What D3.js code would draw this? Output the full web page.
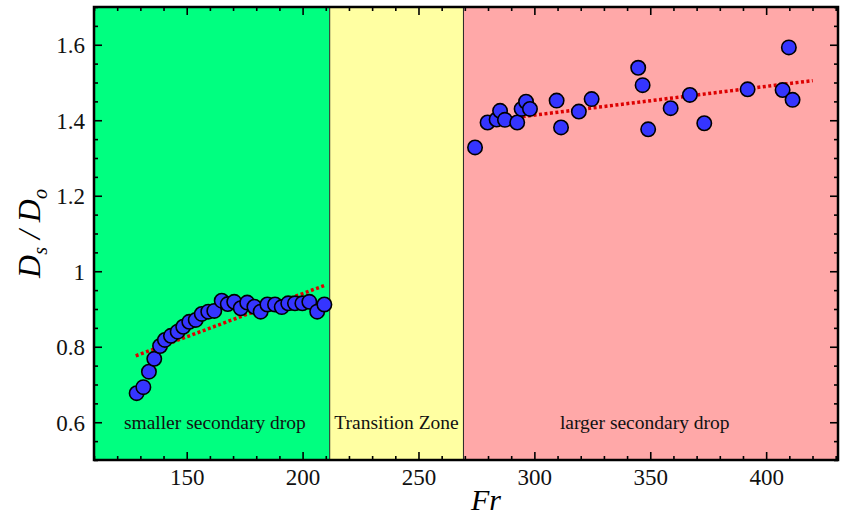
<!DOCTYPE html>
<html>
<head>
<meta charset="utf-8">
<script src="https://cdnjs.cloudflare.com/ajax/libs/d3/7.8.5/d3.min.js"></script>
<style>
  body { margin: 0; background: #fff; }
  svg { display: block; }
  svg text { font-family: "Liberation Serif", "DejaVu Serif", serif; }
</style>
</head>
<body>
<svg id="chart"></svg>
<script>
// data
let smallFr = [128.4, 131.3, 133.7, 136.0, 138.5, 140.6, 143.2, 146.1, 148.5, 151.1, 153.9, 156.5, 159.3, 161.9, 165.1,
  167.7, 170.5, 173.3, 176.1, 179.2, 181.9, 184.8, 188.1, 191.0, 193.8, 196.7, 199.9, 202.9, 206.3, 209.4];
let smallD = [0.677, 0.693, 0.734, 0.768, 0.802, 0.818, 0.829, 0.840, 0.853, 0.866, 0.871, 0.887, 0.893, 0.895, 0.922,
  0.913, 0.919, 0.902, 0.917, 0.906, 0.893, 0.912, 0.912, 0.905, 0.915, 0.915, 0.915, 0.919, 0.893, 0.912];
let largeFr = [274.4, 279.8, 283.7, 285.2, 287.3, 292.6, 294.5, 296.4, 298.1, 309.6, 311.5, 319.2, 324.7, 344.8, 346.7,
  349.1, 358.8, 367.1, 373.3, 392.0, 407.1, 409.8, 411.4];
let largeD = [1.328, 1.394, 1.402, 1.425, 1.401, 1.394, 1.430, 1.449, 1.430, 1.452, 1.381, 1.423, 1.456, 1.539, 1.493,
  1.376, 1.432, 1.467, 1.392, 1.482, 1.480, 1.593, 1.454];
// trend lines (end points)
let smallFit = [[128, 0.776], [209.7, 0.963]];
let largeFit = [[280.8, 1.399], [420.1, 1.505]];
// zones
let zones = [
  {name: "smaller secondary drop", from: 110, to: 211.7, color: "#00ff80"},
  {name: "Transition Zone", from: 211.7, to: 269.4, color: "#ffffa2"},
  {name: "larger secondary drop", from: 269.4, to: 431, color: "#ffa8a8"}
];
let xTicks = [150, 200, 250, 300, 350, 400];
let yTicks = [0.6, 0.8, 1, 1.2, 1.4, 1.6];

let width = 849, height = 518;
let margin = {top: 7, right: 11, bottom: 58, left: 94};
let svg = d3.select("#chart").attr("width", width).attr("height", height);

let x = d3.scaleLinear().domain([110, 431]).range([margin.left, width - margin.right]);
let y = d3.scaleLinear().domain([0.5, 1.7]).range([height - margin.bottom, margin.top]);

// colored zones
svg.append("g").selectAll("rect")
  .data(zones)
  .enter().append("rect")
  .attr("x", d => x(d.from))
  .attr("y", margin.top)
  .attr("width", d => x(d.to) - x(d.from))
  .attr("height", y(0.5) - margin.top)
  .attr("fill", d => d.color);

svg.append("g").selectAll("line")
  .data(zones.slice(1))
  .enter().append("line")
  .attr("x1", d => x(d.from)).attr("x2", d => x(d.from))
  .attr("y1", margin.top).attr("y2", y(0.5))
  .attr("stroke", "#222").attr("stroke-width", 1);

svg.append("g").selectAll("text")
  .data(zones)
  .enter().append("text")
  .attr("x", (d, i) => i == 0 ? x(d.from) + (x(d.to) - x(d.from)) / 2 + 3 : x(d.from) + (x(d.to) - x(d.from)) / 2 - (i == 2 ? 6 : 0))
  .attr("y", 429)
  .attr("text-anchor", "middle")
  .style("font-size", "19.5px")
  .attr("fill", "#111")
  .text(d => d.name);

// axes with inward ticks, mirrored on all sides
let minorX = d3.range(110, 431, 10);
let minorY = d3.range(0.5, 1.7001, 0.05);
function addAxis(axisFn, scale, ticks, len, transform, labels) {
  let g = svg.append("g").attr("transform", transform)
    .call(axisFn(scale).tickValues(ticks).tickSize(len).tickFormat(labels ? d3.format("") : ""));
  g.select(".domain").remove();
  g.attr("font-family", null);
  g.selectAll(".tick line").attr("stroke", "#000").attr("stroke-width", 1.6);
  return g;
}
let bottomY = y(0.5), leftX = x(110), rightX = x(431), topY = y(1.7);
// bottom
addAxis(d3.axisTop, x, minorX.filter(v => v % 50 != 0), 4, `translate(0,${bottomY})`, false);
let gx = addAxis(d3.axisTop, x, xTicks, 8, `translate(0,${bottomY})`, true);
gx.selectAll(".tick text").attr("y", 0).attr("dy", "1.1em")
  .style("font-size", "23px").attr("fill", "#111");
// top
addAxis(d3.axisBottom, x, minorX.filter(v => v % 50 != 0), 4, `translate(0,${topY})`, false);
addAxis(d3.axisBottom, x, xTicks, 8, `translate(0,${topY})`, false);
// left
addAxis(d3.axisRight, y, minorY.filter(v => Math.abs(v * 5 - Math.round(v * 5)) > 0.01), 4, `translate(${leftX},0)`, false);
let gy = addAxis(d3.axisRight, y, yTicks, 8, `translate(${leftX},0)`, true);
gy.selectAll(".tick text").attr("x", -9).attr("text-anchor", "end").attr("dy", "0.34em")
  .style("font-size", "23px").attr("fill", "#111");
// right
addAxis(d3.axisLeft, y, minorY.filter(v => Math.abs(v * 5 - Math.round(v * 5)) > 0.01), 4, `translate(${rightX},0)`, false);
addAxis(d3.axisLeft, y, yTicks, 8, `translate(${rightX},0)`, false);

// frame
svg.append("rect")
  .attr("x", leftX).attr("y", topY)
  .attr("width", rightX - leftX).attr("height", bottomY - topY)
  .attr("fill", "none").attr("stroke", "#000").attr("stroke-width", 2.5);

// trend lines
let line = d3.line().x(d => x(d[0])).y(d => y(d[1]));
svg.append("g").selectAll("path")
  .data([smallFit, largeFit])
  .enter().append("path")
  .attr("d", line)
  .attr("fill", "none")
  .attr("stroke", "#dd0000")
  .attr("stroke-width", 3.5)
  .attr("stroke-dasharray", "3,2.5");

// points
let pts = smallFr.map((v, i) => [v, smallD[i]]).concat(largeFr.map((v, i) => [v, largeD[i]]));
svg.append("g").selectAll("circle")
  .data(pts)
  .enter().append("circle")
  .attr("cx", d => x(d[0]))
  .attr("cy", d => y(d[1]))
  .attr("r", 7.2)
  .attr("fill", "#3535ff")
  .attr("stroke", "#000")
  .attr("stroke-width", 1.6);

// axis titles
svg.append("text")
  .attr("x", (leftX + rightX) / 2 + 20)
  .attr("y", 510)
  .attr("text-anchor", "middle")
  .style("font-size", "30px")
  .style("font-style", "italic")
  .text("Fr");

let yt = svg.append("text")
  .attr("transform", `translate(40,${(topY + bottomY) / 2}) rotate(-90)`)
  .attr("text-anchor", "middle")
  .style("font-size", "32px")
  .style("font-style", "italic");
yt.append("tspan").text("D");
yt.append("tspan").style("font-size", "20px").attr("dy", 7).text("s");
yt.append("tspan").attr("dy", -7).text(" / D");
yt.append("tspan").style("font-size", "20px").attr("dy", 7).text("o");
</script>
</body>
</html>
